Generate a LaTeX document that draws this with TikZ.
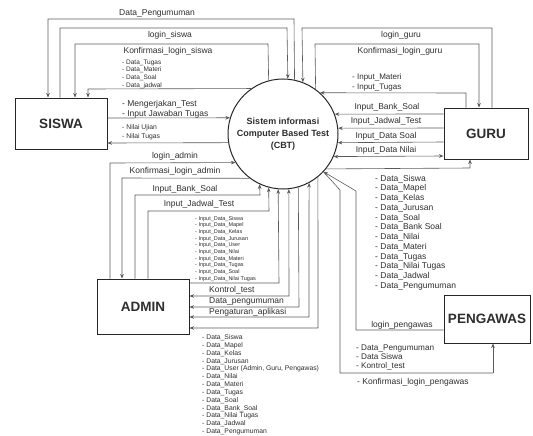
\documentclass[tikz,border=0pt]{standalone}
\usepackage{fontspec}
\setmainfont{Liberation Sans}
\usetikzlibrary{arrows.meta}
\definecolor{flowgray}{HTML}{5A5A5A}
\definecolor{txtgray}{HTML}{2E2E2E}
\definecolor{boxline}{HTML}{262626}
\begin{document}
\begin{tikzpicture}[x=1pt,y=-1pt,
  flow/.style={draw=flowgray,line width=0.6pt},
  arr/.style={-{Stealth[length=4.5pt,width=3.6pt]}},
  biarr/.style={{Stealth[length=4.5pt,width=3.6pt]}-{Stealth[length=4.5pt,width=3.6pt]}},
  entity/.style={draw=boxline,line width=1pt,fill=white,inner sep=0pt,
    font=\fontsize{13.5}{16}\selectfont\bfseries,text=txtgray},
  process/.style={circle,draw=boxline,line width=1pt,inner sep=0pt,minimum size=110pt,
    align=center,font=\fontsize{9}{12}\selectfont\bfseries,text=txtgray},
  lbl/.style={inner sep=0pt,text=txtgray,font=\fontsize{8.5}{10}\selectfont},
  lst/.style={inner sep=0pt,text=txtgray,align=left,anchor=north west}
]
\useasboundingbox (0,0) rectangle (533,436);

% --- external entities and the process ---
\node[entity,minimum width=92pt,minimum height=51pt] (siswa) at (61,123.5) {SISWA};
\node[entity,minimum width=84pt,minimum height=51pt] (guru) at (486,133.5) {GURU};
\node[entity,minimum width=92pt,minimum height=55pt] (admin) at (143,306.5) {ADMIN};
\node[entity,minimum width=86pt,minimum height=48pt] (pengawas) at (487,319) {PENGAWAS};
\node[process] (cbt) at (283,134) {Sistem informasi\\Computer Based Test\\(CBT)};

% --- flows between SISWA and the system ---
\draw[flow,arr] (cbt.78.5) -- (294,19) -- (48,19) -- (48,0 |- siswa.north);
\draw[flow,arr] (60,0 |- siswa.north) -- (60,28) -- (287,28) -- (cbt.85.8);
\draw[flow,arr] (cbt.105.8) -- (268,44) -- (75,44) -- (75,0 |- siswa.north);
\draw[flow,arr] (cbt.125.1) -- (88,89) -- (88,0 |- siswa.north);
\draw[flow,arr] (siswa.east |- 0,118) -- (cbt.163.1);
\draw[flow,arr] (cbt.189.4) -- (siswa.east |- 0,143);

\node[lbl] (tDP) at (157,13) {Data\_Pengumuman};
\node[lbl] (tLS) at (170,35) {login\_siswa};
\node[lbl] (tKS) at (168,51) {Konfirmasi\_login\_siswa};
\node[lst,font=\fontsize{6.5}{7.7}\selectfont] (tSD) at (122,59.6)
  {- Data\_Tugas\\- Data\_Materi\\- Data\_Soal\\- Data\_jadwal};
\node[lst,font=\fontsize{8.5}{10}\selectfont] (tMT) at (122,99.9)
  {- Mengerjakan\_Test\\- Input Jawaban Tugas};
\node[lst,font=\fontsize{6.8}{9}\selectfont] (tNU) at (122,124.5)
  {- Nilai Ujian\\- Nilai Tugas};

% --- flows between ADMIN and the system ---
\draw[flow,arr] (110,0 |- admin.north) -- (110,163) -- (cbt.211.8);
\draw[flow,arr] (cbt.233.1) -- (122,178) -- (122,0 |- admin.north);
\draw[flow,arr] (135,0 |- admin.north) -- (135,195) -- (260,195) -- (cbt.245.28);
\draw[flow,arr] (148,0 |- admin.north) -- (148,211) -- (269,211) -- (cbt.255.25);
\draw[flow,arr] (admin.east |- 0,283) -- (279,283) -- (cbt.265.83);
\draw[flow,biarr] (cbt.276.26) -- (289,296) -- (admin.east |- 0,296);
\draw[flow,arr] (cbt.286.91) -- (299,307) -- (admin.east |- 0,307);
\draw[flow,biarr] (cbt.298.21) -- (309,317) -- (admin.east |- 0,317);
\draw[flow,arr] (cbt.309.52) -- (318,328) -- (admin.east |- 0,328);

\node[lbl] (tLA) at (175,156) {login\_admin};
\node[lbl] (tKA) at (175,171) {Konfirmasi\_login\_admin};
\node[lbl] (tBA) at (185,189) {Input\_Bank\_Soal};
\node[lbl] (tJA) at (199,204) {Input\_Jadwal\_Test};
\node[lst,font=\fontsize{5.5}{6.67}\selectfont] (tID) at (195,216)
  {- Input\_Data\_Siswa\\- Input\_Data\_Mapel\\- Input\_Data\_Kelas\\- Input\_Data\_Jurusan\\
   - Input\_Data\_User\\- Input\_Data\_Nilai\\- Input\_Data\_Materi\\- Input\_Data\_Tugas\\
   - Input\_Data\_Soal\\- Input\_Data\_Nilai Tugas};
\node[lbl,anchor=west] (tKT) at (209,290) {Kontrol\_test};
\node[lbl,anchor=west] (tPA) at (209,301) {Data\_pengumuman};
\node[lbl,anchor=west] (tAP) at (209,312) {Pengaturan\_aplikasi};
\node[lst,font=\fontsize{6.8}{7.83}\selectfont] (tAD) at (202,334.5)
  {- Data\_Siswa\\- Data\_Mapel\\- Data\_Kelas\\- Data\_Jurusan\\
   - Data\_User (Admin, Guru, Pengawas)\\- Data\_Nilai\\- Data\_Materi\\- Data\_Tugas\\
   - Data\_Soal\\- Data\_Bank\_Soal\\- Data\_Nilai Tugas\\- Data\_Jadwal\\- Data\_Pengumuman};

% --- flows between GURU and the system ---
\draw[flow,arr] (492,0 |- guru.north) -- (492,28) -- (302,28) -- (cbt.69.79);
\draw[flow,arr] (cbt.54.42) -- (315,44) -- (479,44) -- (479,0 |- guru.north);
\draw[flow,arr] (466,0 |- guru.north) -- (466,93) -- (cbt.48.19);
\draw[flow,arr] (guru.west |- 0,114) -- (cbt.21.32);
\draw[flow,arr] (guru.west |- 0,128) -- (cbt.6.26);
\draw[flow,arr] (guru.west |- 0,142) -- (cbt.351.64);
\draw[flow,biarr] (guru.west |- 0,156) -- (cbt.336.42);
\draw[flow,arr] (cbt.321.81) -- (470,168) -- (470,0 |- guru.south);

\node[lbl] (tLG) at (401,35) {login\_guru};
\node[lbl] (tKG) at (400,51) {Konfirmasi\_login\_guru};
\node[lst,font=\fontsize{8}{10}\selectfont] (tIM) at (352,74)
  {- Input\_Materi\\- Input\_Tugas};
\node[lbl] (tBG) at (387,107) {Input\_Bank\_Soal};
\node[lbl] (tJG) at (386,121) {Input\_Jadwal\_Test};
\node[lbl] (tSG) at (386,136) {Input\_Data Soal};
\node[lbl] (tNG) at (386,150) {Input\_Data Nilai};
\node[lst,font=\fontsize{8.5}{9.73}\selectfont] (tGD) at (375,174.9)
  {- Data\_Siswa\\- Data\_Mapel\\- Data\_Kelas\\- Data\_Jurusan\\- Data\_Soal\\
   - Data\_Bank Soal\\- Data\_Nilai\\- Data\_Materi\\- Data\_Tugas\\- Data\_Nilai Tugas\\
   - Data\_Jadwal\\- Data\_Pengumuman};

% --- flows between PENGAWAS and the system ---
\draw[flow,arr] (pengawas.west |- 0,330) -- (356,330) -- (356,191) -- (cbt.317);
\draw[flow] (cbt.317) -- (340,190) -- (340,373) -- (493,373);
\draw[flow,arr] (493,373) -- (493,0 |- pengawas.south);

\node[lbl] (tLP) at (402,325) {login\_pengawas};
\node[lst,font=\fontsize{8.2}{9}\selectfont] (tPD) at (356,345)
  {- Data\_Pengumuman\\- Data Siswa\\- Kontrol\_test};
\node[lbl,anchor=west] (tKP) at (357,382) {- Konfirmasi\_login\_pengawas};
\end{tikzpicture}
\end{document}
